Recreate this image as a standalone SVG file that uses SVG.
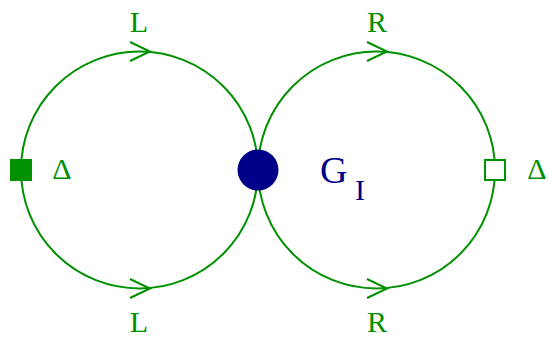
<svg xmlns="http://www.w3.org/2000/svg" width="548" height="339" viewBox="0 0 548 339">
<style>
.c{fill:none;stroke:#009000;stroke-width:2}
.t{font-family:"Liberation Serif",serif;font-size:30px;fill:#009000;text-anchor:middle}
.b{font-family:"Liberation Serif",serif;fill:#000088}
</style>
<rect width="548" height="339" fill="#fff"/>
<g id="connectors">
<path class="c" d="M21,170 A118.5,118.5 0 0 1 258,170"/>
<path class="c" d="M21,170 A118.5,118.5 0 0 0 258,170"/>
<path class="c" d="M258,170 A118.5,118.5 0 0 1 495,170"/>
<path class="c" d="M258,170 A118.5,118.5 0 0 0 495,170"/>
<polyline class="c" points="130,42 150,51.5 130,61"/>
<polyline class="c" points="130,279 150,288.5 130,298"/>
<polyline class="c" points="367,42 387,51.5 367,61"/>
<polyline class="c" points="367,279 387,288.5 367,298"/>
<text class="t" x="139" y="32">L</text>
<text class="t" x="139" y="332">L</text>
<text class="t" x="377" y="32">R</text>
<text class="t" x="377" y="332">R</text>
</g>
<g id="left">
<rect x="10" y="159" width="22" height="22" fill="#009000"/>
<text class="t" x="62" y="179">Δ</text>
</g>
<g id="center">
<circle cx="258" cy="170" r="20.5" fill="#000088"/>
<text class="b" x="320" y="183" font-size="38">G</text>
<text class="b" x="355" y="200" font-size="30">I</text>
</g>
<g id="right">
<rect x="485" y="160" width="20" height="20" fill="#fff" stroke="#009000" stroke-width="2"/>
<text class="t" x="537" y="179">Δ</text>
</g>
</svg>
